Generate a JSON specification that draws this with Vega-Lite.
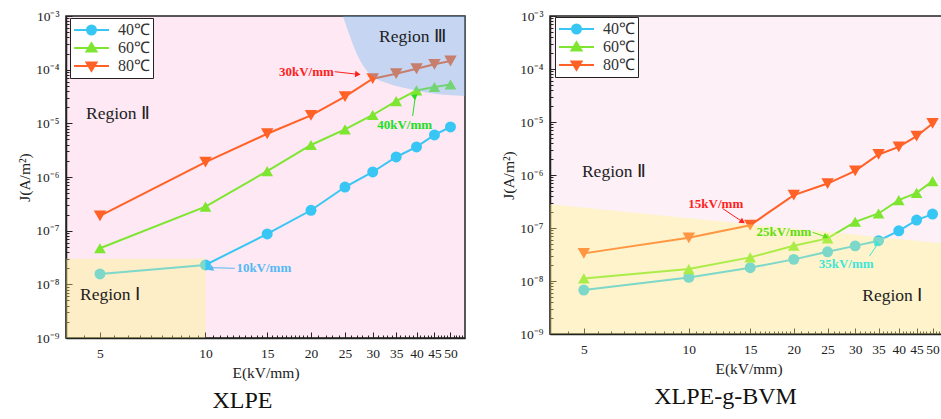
{
  "$schema": "https://vega.github.io/schema/vega-lite/v6.json",
  "padding": {"left": 16, "top": 8, "right": 0, "bottom": 0},
  "spacing": 31,
  "config": {
    "font": "Liberation Serif",
    "axis": {
      "grid": false,
      "zindex": 1,
      "labelFont": "Liberation Serif",
      "titleFont": "Liberation Serif",
      "labelColor": "#222",
      "titleColor": "#222",
      "tickColor": "#222",
      "domainColor": "#222",
      "titleFontWeight": "normal",
      "labelFlush": false,
      "labelOverlap": false
    },
    "legend": {
      "title": null,
      "orient": "none",
      "fillColor": "white",
      "strokeColor": "#222",
      "padding": 3,
      "labelFontSize": 16,
      "labelFont": "Liberation Serif",
      "labelColor": "#333",
      "labelOffset": 8,
      "clipHeight": 18,
      "rowPadding": 0,
      "symbolSize": 1225,
      "symbolStrokeWidth": 2,
      "symbolOffset": 0,
      "symbolOpacity": 1
    },
    "title": {"font": "Liberation Serif", "fontWeight": "normal", "color": "#111", "fontSize": 24}
  },
  "datasets": {
    "xlpe": [
      {"E": 5, "J": 1.56e-8, "T": "40℃"}, {"E": 10, "J": 2.3e-8, "T": "40℃"}, {"E": 15, "J": 8.7e-8, "T": "40℃"},
      {"E": 20, "J": 2.4e-7, "T": "40℃"}, {"E": 25, "J": 6.5e-7, "T": "40℃"}, {"E": 30, "J": 1.24e-6, "T": "40℃"},
      {"E": 35, "J": 2.36e-6, "T": "40℃"}, {"E": 40, "J": 3.63e-6, "T": "40℃"}, {"E": 45, "J": 6.07e-6, "T": "40℃"},
      {"E": 50, "J": 8.55e-6, "T": "40℃"},
      {"E": 5, "J": 4.7e-8, "T": "60℃"}, {"E": 10, "J": 2.8e-7, "T": "60℃"}, {"E": 15, "J": 1.29e-6, "T": "60℃"},
      {"E": 20, "J": 3.95e-6, "T": "60℃"}, {"E": 25, "J": 7.7e-6, "T": "60℃"}, {"E": 30, "J": 1.43e-5, "T": "60℃"},
      {"E": 35, "J": 2.6e-5, "T": "60℃"}, {"E": 40, "J": 4.1e-5, "T": "60℃"}, {"E": 45, "J": 4.75e-5, "T": "60℃"},
      {"E": 50, "J": 5.3e-5, "T": "60℃"},
      {"E": 5, "J": 1.88e-7, "T": "80℃"}, {"E": 10, "J": 1.9e-6, "T": "80℃"}, {"E": 15, "J": 6.4e-6, "T": "80℃"},
      {"E": 20, "J": 1.41e-5, "T": "80℃"}, {"E": 25, "J": 3.14e-5, "T": "80℃"}, {"E": 30, "J": 6.8e-5, "T": "80℃"},
      {"E": 35, "J": 8.4e-5, "T": "80℃"}, {"E": 40, "J": 1.04e-4, "T": "80℃"}, {"E": 45, "J": 1.26e-4, "T": "80℃"},
      {"E": 50, "J": 1.45e-4, "T": "80℃"}
    ],
    "bvm": [
      {"E": 5, "J": 6.75e-9, "T": "40℃"}, {"E": 10, "J": 1.17e-8, "T": "40℃"}, {"E": 15, "J": 1.78e-8, "T": "40℃"},
      {"E": 20, "J": 2.56e-8, "T": "40℃"}, {"E": 25, "J": 3.56e-8, "T": "40℃"}, {"E": 30, "J": 4.6e-8, "T": "40℃"},
      {"E": 35, "J": 5.75e-8, "T": "40℃"}, {"E": 40, "J": 8.85e-8, "T": "40℃"}, {"E": 45, "J": 1.41e-7, "T": "40℃"},
      {"E": 50, "J": 1.83e-7, "T": "40℃"},
      {"E": 5, "J": 1.12e-8, "T": "60℃"}, {"E": 10, "J": 1.68e-8, "T": "60℃"}, {"E": 15, "J": 2.79e-8, "T": "60℃"},
      {"E": 20, "J": 4.62e-8, "T": "60℃"}, {"E": 25, "J": 6.37e-8, "T": "60℃"}, {"E": 30, "J": 1.31e-7, "T": "60℃"},
      {"E": 35, "J": 1.88e-7, "T": "60℃"}, {"E": 40, "J": 3.36e-7, "T": "60℃"}, {"E": 45, "J": 4.6e-7, "T": "60℃"},
      {"E": 50, "J": 7.66e-7, "T": "60℃"},
      {"E": 5, "J": 3.32e-8, "T": "80℃"}, {"E": 10, "J": 6.53e-8, "T": "80℃"}, {"E": 15, "J": 1.13e-7, "T": "80℃"},
      {"E": 20, "J": 4.17e-7, "T": "80℃"}, {"E": 25, "J": 6.9e-7, "T": "80℃"}, {"E": 30, "J": 1.2e-6, "T": "80℃"},
      {"E": 35, "J": 2.44e-6, "T": "80℃"}, {"E": 40, "J": 3.4e-6, "T": "80℃"}, {"E": 45, "J": 5.4e-6, "T": "80℃"},
      {"E": 50, "J": 9.4e-6, "T": "80℃"}
    ],
    "xlpe_region1": [{"E": 4, "J": 3e-8}, {"E": 10, "J": 3e-8}],
    "xlpe_region3": [
      {"E": 24.67, "J": 1e-3}, {"E": 25.8, "J": 4.24e-4}, {"E": 27.2, "J": 1.8e-4}, {"E": 29.4, "J": 8.3e-5},
      {"E": 32.9, "J": 5.65e-5}, {"E": 38.2, "J": 4.36e-5}, {"E": 43.6, "J": 3.67e-5}, {"E": 55, "J": 3.23e-5}
    ],
    "bvm_region1": [{"E": 4, "J": 2.8e-7}, {"E": 55, "J": 5.0e-8}],
    "xlpe_region_labels": [
      {"label": "Region Ⅱ", "E": 5.63, "J": 1.49e-5},
      {"label": "Region Ⅲ", "E": 38.96, "J": 4.06e-4},
      {"label": "Region Ⅰ", "E": 5.34, "J": 6.33e-9}
    ],
    "bvm_region_labels": [
      {"label": "Region Ⅱ", "E": 6.1, "J": 1.12e-6},
      {"label": "Region Ⅰ", "E": 38.3, "J": 5.2e-9}
    ],
    "xlpe_notes": [
      {"label": "30kV/mm", "E": 19.4, "J": 9.05e-5, "Es": 23.36, "Js": 9.17e-5, "Ee": 27.2, "Je": 8.2e-5},
      {"label": "40kV/mm", "E": 37.0, "J": 9.31e-6, "Es": 39.0, "Js": 1.37e-5, "Ee": 39.7, "Je": 3.23e-5},
      {"label": "10kV/mm", "E": 14.67, "J": 1.99e-8, "Es": 12.12, "Js": 1.99e-8, "Ee": 10.4, "Je": 2.04e-8}
    ],
    "bvm_notes": [
      {"label": "15kV/mm", "E": 11.95, "J": 2.82e-7, "Es": 12.49, "Js": 2.34e-7, "Ee": 14.26, "Je": 1.31e-7},
      {"label": "25kV/mm", "E": 18.74, "J": 8.48e-8, "Es": 22.66, "Js": 8.26e-8, "Ee": 24.75, "Je": 6.83e-8},
      {"label": "35kV/mm", "E": 28.25, "J": 2.06e-8, "Es": 32.96, "Js": 2.95e-8, "Ee": 34.8, "Je": 4.97e-8}
    ]
  },
  "hconcat": [
    {
      "width": 399,
      "height": 322,
      "view": {"fill": "#FDE8F3", "stroke": "#222", "strokeWidth": 1.5},
      "title": {"text": "XLPE", "orient": "bottom", "anchor": "middle", "frame": "bounds", "offset": 8},
      "resolve": {
        "axis": {"x": "independent", "y": "independent"},
        "scale": {"color": "independent", "shape": "independent", "size": "independent", "fill": "independent", "stroke": "independent", "angle": "independent"}
      },
      "layer": [
        {
          "data": {"name": "xlpe"},
          "mark": {"type": "line", "strokeWidth": 2},
          "encoding": {
            "x": {
              "field": "E", "type": "quantitative",
              "scale": {"type": "log", "domain": [4, 55], "nice": false},
              "axis": {
                "orient": "bottom", "values": [5, 10, 15, 20, 25, 30, 35, 40, 45, 50],
                "title": "E(kV/mm)", "titleFontSize": 15.5, "titlePadding": 6,
                "labelFontSize": 13.5, "labelPadding": 14, "tickSize": -6, "tickWidth": 1, "domainWidth": 1.5
              }
            },
            "y": {
              "field": "J", "type": "quantitative",
              "scale": {"type": "log", "domain": [1e-9, 0.001], "nice": false},
              "axis": {
                "orient": "left", "values": [1e-9, 1e-8, 1e-7, 1e-6, 1e-5, 1e-4, 0.001],
                "labelExpr": "datum.value < 5e-9 ? '10⁻⁹' : datum.value < 5e-8 ? '10⁻⁸' : datum.value < 5e-7 ? '10⁻⁷' : datum.value < 5e-6 ? '10⁻⁶' : datum.value < 5e-5 ? '10⁻⁵' : datum.value < 5e-4 ? '10⁻⁴' : '10⁻³'",
                "title": "J(A/m²)", "titleFontSize": 15.5, "titlePadding": 4,
                "labelFontSize": 13.5, "labelPadding": 13, "tickSize": -6, "tickWidth": 1, "domainWidth": 1.5,
                "minExtent": 30, "maxExtent": 30
              }
            },
            "color": {"field": "T", "type": "nominal", "scale": {"domain": ["40℃", "60℃", "80℃"], "range": ["#38C6F4", "#7EE531", "#FF6126"]}, "legend": null}
          }
        },
        {
          "data": {"name": "xlpe"},
          "mark": {"type": "point", "filled": true, "opacity": 1},
          "encoding": {
            "x": {"field": "E", "type": "quantitative", "axis": null},
            "y": {"field": "J", "type": "quantitative", "axis": null},
            "color": {"field": "T", "type": "nominal", "scale": {"domain": ["40℃", "60℃", "80℃"], "range": ["#38C6F4", "#7EE531", "#FF6126"]}, "legend": null},
            "shape": {"field": "T", "type": "nominal", "scale": {"domain": ["40℃", "60℃", "80℃"], "range": ["circle", "triangle-up", "triangle-down"]}, "legend": null},
            "size": {"field": "T", "type": "nominal", "scale": {"domain": ["40℃", "60℃", "80℃"], "range": [120, 155, 155]}, "legend": null}
          }
        },
        {
          "data": {"name": "xlpe_region1"},
          "mark": {"type": "area", "color": "#FFFA78", "opacity": 0.35},
          "encoding": {
            "x": {
              "field": "E", "type": "quantitative",
              "axis": {
                "orient": "bottom", "title": null, "labels": false, "domain": false, "tickSize": -3, "tickWidth": 1,
                "values": [4, 4.5, 5.5, 6, 6.5, 7, 7.5, 8, 8.5, 9, 9.5, 10.5, 11, 11.5, 12, 12.5, 13, 13.5, 14, 14.5, 15.5, 16, 16.5, 17, 17.5, 18, 18.5, 19, 19.5, 21, 22, 23, 24, 26, 27, 28, 29, 31, 32, 33, 34, 36, 37, 38, 39, 41, 42, 43, 44, 46, 47, 48, 49, 51, 52, 53, 54]
              }
            },
            "y": {
              "field": "J", "type": "quantitative",
              "axis": {
                "orient": "left", "title": null, "labels": false, "domain": false, "tickSize": -3, "tickWidth": 1,
                "values": [2e-9, 3e-9, 4e-9, 5e-9, 6e-9, 7e-9, 8e-9, 9e-9, 2e-8, 3e-8, 4e-8, 5e-8, 6e-8, 7e-8, 8e-8, 9e-8, 2e-7, 3e-7, 4e-7, 5e-7, 6e-7, 7e-7, 8e-7, 9e-7, 2e-6, 3e-6, 4e-6, 5e-6, 6e-6, 7e-6, 8e-6, 9e-6, 2e-5, 3e-5, 4e-5, 5e-5, 6e-5, 7e-5, 8e-5, 9e-5, 2e-4, 3e-4, 4e-4, 5e-4, 6e-4, 7e-4, 8e-4, 9e-4]
              }
            },
            "y2": {"datum": 1e-9}
          }
        },
        {
          "data": {"name": "xlpe_region3"},
          "mark": {"type": "area", "color": "#5FB4F0", "opacity": 0.35, "interpolate": "monotone"},
          "encoding": {
            "x": {"field": "E", "type": "quantitative", "axis": null},
            "y": {"field": "J", "type": "quantitative", "axis": null},
            "y2": {"datum": 0.001}
          }
        },
        {
          "data": {"name": "xlpe_region_labels"},
          "mark": {"type": "text", "fontSize": 17.5, "color": "#222", "align": "center", "baseline": "middle"},
          "encoding": {
            "x": {"field": "E", "type": "quantitative", "axis": null},
            "y": {"field": "J", "type": "quantitative", "axis": null},
            "text": {"field": "label"}
          }
        },
        {
          "data": {"name": "xlpe_notes"},
          "mark": {"type": "rule", "strokeWidth": 1},
          "encoding": {
            "x": {"field": "Es", "type": "quantitative", "axis": null},
            "y": {"field": "Js", "type": "quantitative", "axis": null},
            "x2": {"field": "Ee"},
            "y2": {"field": "Je"},
            "color": {"field": "label", "type": "nominal", "scale": {"domain": ["30kV/mm", "40kV/mm", "10kV/mm"], "range": ["#FF1F1F", "#22DD22", "#55B8F5"]}, "legend": null}
          }
        },
        {
          "data": {"name": "xlpe_notes"},
          "mark": {"type": "point", "filled": true, "opacity": 1, "shape": "triangle-up", "size": 40},
          "encoding": {
            "x": {"field": "Ee", "type": "quantitative", "axis": null},
            "y": {"field": "Je", "type": "quantitative", "axis": null},
            "angle": {"field": "label", "type": "nominal", "scale": {"domain": ["30kV/mm", "40kV/mm", "10kV/mm"], "range": [96, 8, 272]}, "legend": null},
            "color": {"field": "label", "type": "nominal", "scale": {"domain": ["30kV/mm", "40kV/mm", "10kV/mm"], "range": ["#FF1F1F", "#22DD22", "#55B8F5"]}, "legend": null}
          }
        },
        {
          "data": {"name": "xlpe_notes"},
          "mark": {"type": "text", "fontSize": 13, "fontWeight": "bold", "align": "center", "baseline": "middle"},
          "encoding": {
            "x": {"field": "E", "type": "quantitative", "axis": null},
            "y": {"field": "J", "type": "quantitative", "axis": null},
            "text": {"field": "label"},
            "color": {"field": "label", "type": "nominal", "scale": {"domain": ["30kV/mm", "40kV/mm", "10kV/mm"], "range": ["#FF1F1F", "#22DD22", "#55B8F5"]}, "legend": null}
          }
        },
        {
          "data": {"name": "xlpe"},
          "mark": {"type": "point", "filled": true, "opacity": 0, "size": 1225, "strokeWidth": 2},
          "encoding": {
            "x": {"field": "E", "type": "quantitative", "axis": null},
            "y": {"field": "J", "type": "quantitative", "axis": null},
            "fill": {"field": "T", "type": "nominal", "scale": {"domain": ["40℃", "60℃", "80℃"], "range": ["#38C6F4", "#7EE531", "#FF6126"]}, "legend": {"legendX": 4, "legendY": 2}},
            "stroke": {"field": "T", "type": "nominal", "scale": {"domain": ["40℃", "60℃", "80℃"], "range": ["#38C6F4", "#7EE531", "#FF6126"]}, "legend": {"legendX": 4, "legendY": 2}},
            "shape": {"field": "T", "type": "nominal", "scale": {"domain": ["40℃", "60℃", "80℃"], "range": ["M-1,0L1,0M-0.257,0A0.257,0.257 0 1,0 0.257,0A0.257,0.257 0 1,0 -0.257,0Z", "M-1,0L1,0M0,-0.274L0.286,0.206L-0.286,0.206Z", "M-1,0L1,0M0,0.274L0.286,-0.206L-0.286,-0.206Z"]}, "legend": {"legendX": 4, "legendY": 2}}
          }
        }
      ]
    },
    {
      "width": 397,
      "height": 318,
      "view": {"fill": "#FDF0F7", "stroke": "#222", "strokeWidth": 1.5},
      "title": {"text": "XLPE-g-BVM", "orient": "bottom", "anchor": "middle", "frame": "bounds", "offset": 8},
      "resolve": {
        "axis": {"x": "independent", "y": "independent"},
        "scale": {"color": "independent", "shape": "independent", "size": "independent", "fill": "independent", "stroke": "independent", "angle": "independent"}
      },
      "layer": [
        {
          "data": {"name": "bvm"},
          "mark": {"type": "line", "strokeWidth": 2},
          "encoding": {
            "x": {
              "field": "E", "type": "quantitative",
              "scale": {"type": "log", "domain": [4, 55], "nice": false},
              "axis": {
                "orient": "bottom", "values": [5, 10, 15, 20, 25, 30, 35, 40, 45, 50],
                "title": "E(kV/mm)", "titleFontSize": 15.5, "titlePadding": 6,
                "labelFontSize": 13.5, "labelPadding": 14, "tickSize": -6, "tickWidth": 1, "domainWidth": 1.5
              }
            },
            "y": {
              "field": "J", "type": "quantitative",
              "scale": {"type": "log", "domain": [1e-9, 0.001], "nice": false},
              "axis": {
                "orient": "left", "values": [1e-9, 1e-8, 1e-7, 1e-6, 1e-5, 1e-4, 0.001],
                "labelExpr": "datum.value < 5e-9 ? '10⁻⁹' : datum.value < 5e-8 ? '10⁻⁸' : datum.value < 5e-7 ? '10⁻⁷' : datum.value < 5e-6 ? '10⁻⁶' : datum.value < 5e-5 ? '10⁻⁵' : datum.value < 5e-4 ? '10⁻⁴' : '10⁻³'",
                "title": "J(A/m²)", "titleFontSize": 15.5, "titlePadding": 4,
                "labelFontSize": 13.5, "labelPadding": 13, "tickSize": -6, "tickWidth": 1, "domainWidth": 1.5,
                "minExtent": 30, "maxExtent": 30
              }
            },
            "color": {"field": "T", "type": "nominal", "scale": {"domain": ["40℃", "60℃", "80℃"], "range": ["#38C6F4", "#7EE531", "#FF6126"]}, "legend": null}
          }
        },
        {
          "data": {"name": "bvm"},
          "mark": {"type": "point", "filled": true, "opacity": 1},
          "encoding": {
            "x": {"field": "E", "type": "quantitative", "axis": null},
            "y": {"field": "J", "type": "quantitative", "axis": null},
            "color": {"field": "T", "type": "nominal", "scale": {"domain": ["40℃", "60℃", "80℃"], "range": ["#38C6F4", "#7EE531", "#FF6126"]}, "legend": null},
            "shape": {"field": "T", "type": "nominal", "scale": {"domain": ["40℃", "60℃", "80℃"], "range": ["circle", "triangle-up", "triangle-down"]}, "legend": null},
            "size": {"field": "T", "type": "nominal", "scale": {"domain": ["40℃", "60℃", "80℃"], "range": [120, 155, 155]}, "legend": null}
          }
        },
        {
          "data": {"name": "bvm_region1"},
          "mark": {"type": "area", "color": "#FFFA78", "opacity": 0.35},
          "encoding": {
            "x": {
              "field": "E", "type": "quantitative",
              "axis": {
                "orient": "bottom", "title": null, "labels": false, "domain": false, "tickSize": -3, "tickWidth": 1,
                "values": [4, 4.5, 5.5, 6, 6.5, 7, 7.5, 8, 8.5, 9, 9.5, 10.5, 11, 11.5, 12, 12.5, 13, 13.5, 14, 14.5, 15.5, 16, 16.5, 17, 17.5, 18, 18.5, 19, 19.5, 21, 22, 23, 24, 26, 27, 28, 29, 31, 32, 33, 34, 36, 37, 38, 39, 41, 42, 43, 44, 46, 47, 48, 49, 51, 52, 53, 54]
              }
            },
            "y": {
              "field": "J", "type": "quantitative",
              "axis": {
                "orient": "left", "title": null, "labels": false, "domain": false, "tickSize": -3, "tickWidth": 1,
                "values": [2e-9, 3e-9, 4e-9, 5e-9, 6e-9, 7e-9, 8e-9, 9e-9, 2e-8, 3e-8, 4e-8, 5e-8, 6e-8, 7e-8, 8e-8, 9e-8, 2e-7, 3e-7, 4e-7, 5e-7, 6e-7, 7e-7, 8e-7, 9e-7, 2e-6, 3e-6, 4e-6, 5e-6, 6e-6, 7e-6, 8e-6, 9e-6, 2e-5, 3e-5, 4e-5, 5e-5, 6e-5, 7e-5, 8e-5, 9e-5, 2e-4, 3e-4, 4e-4, 5e-4, 6e-4, 7e-4, 8e-4, 9e-4]
              }
            },
            "y2": {"datum": 1e-9}
          }
        },
        {
          "data": {"name": "bvm_region_labels"},
          "mark": {"type": "text", "fontSize": 17.5, "color": "#222", "align": "center", "baseline": "middle"},
          "encoding": {
            "x": {"field": "E", "type": "quantitative", "axis": null},
            "y": {"field": "J", "type": "quantitative", "axis": null},
            "text": {"field": "label"}
          }
        },
        {
          "data": {"name": "bvm_notes"},
          "mark": {"type": "rule", "strokeWidth": 1},
          "encoding": {
            "x": {"field": "Es", "type": "quantitative", "axis": null},
            "y": {"field": "Js", "type": "quantitative", "axis": null},
            "x2": {"field": "Ee"},
            "y2": {"field": "Je"},
            "color": {"field": "label", "type": "nominal", "scale": {"domain": ["15kV/mm", "25kV/mm", "35kV/mm"], "range": ["#FF1F1F", "#5EDD11", "#3EE6D6"]}, "legend": null}
          }
        },
        {
          "data": {"name": "bvm_notes"},
          "mark": {"type": "point", "filled": true, "opacity": 1, "shape": "triangle-up", "size": 40},
          "encoding": {
            "x": {"field": "Ee", "type": "quantitative", "axis": null},
            "y": {"field": "Je", "type": "quantitative", "axis": null},
            "angle": {"field": "label", "type": "nominal", "scale": {"domain": ["15kV/mm", "25kV/mm", "35kV/mm"], "range": [124, 108, 35]}, "legend": null},
            "color": {"field": "label", "type": "nominal", "scale": {"domain": ["15kV/mm", "25kV/mm", "35kV/mm"], "range": ["#FF1F1F", "#5EDD11", "#3EE6D6"]}, "legend": null}
          }
        },
        {
          "data": {"name": "bvm_notes"},
          "mark": {"type": "text", "fontSize": 13, "fontWeight": "bold", "align": "center", "baseline": "middle"},
          "encoding": {
            "x": {"field": "E", "type": "quantitative", "axis": null},
            "y": {"field": "J", "type": "quantitative", "axis": null},
            "text": {"field": "label"},
            "color": {"field": "label", "type": "nominal", "scale": {"domain": ["15kV/mm", "25kV/mm", "35kV/mm"], "range": ["#FF1F1F", "#5EDD11", "#3EE6D6"]}, "legend": null}
          }
        },
        {
          "data": {"name": "bvm"},
          "mark": {"type": "point", "filled": true, "opacity": 0, "size": 1225, "strokeWidth": 2},
          "encoding": {
            "x": {"field": "E", "type": "quantitative", "axis": null},
            "y": {"field": "J", "type": "quantitative", "axis": null},
            "fill": {"field": "T", "type": "nominal", "scale": {"domain": ["40℃", "60℃", "80℃"], "range": ["#38C6F4", "#7EE531", "#FF6126"]}, "legend": {"legendX": 5, "legendY": 1}},
            "stroke": {"field": "T", "type": "nominal", "scale": {"domain": ["40℃", "60℃", "80℃"], "range": ["#38C6F4", "#7EE531", "#FF6126"]}, "legend": {"legendX": 5, "legendY": 1}},
            "shape": {"field": "T", "type": "nominal", "scale": {"domain": ["40℃", "60℃", "80℃"], "range": ["M-1,0L1,0M-0.257,0A0.257,0.257 0 1,0 0.257,0A0.257,0.257 0 1,0 -0.257,0Z", "M-1,0L1,0M0,-0.274L0.286,0.206L-0.286,0.206Z", "M-1,0L1,0M0,0.274L0.286,-0.206L-0.286,-0.206Z"]}, "legend": {"legendX": 5, "legendY": 1}}
          }
        }
      ]
    }
  ]
}
